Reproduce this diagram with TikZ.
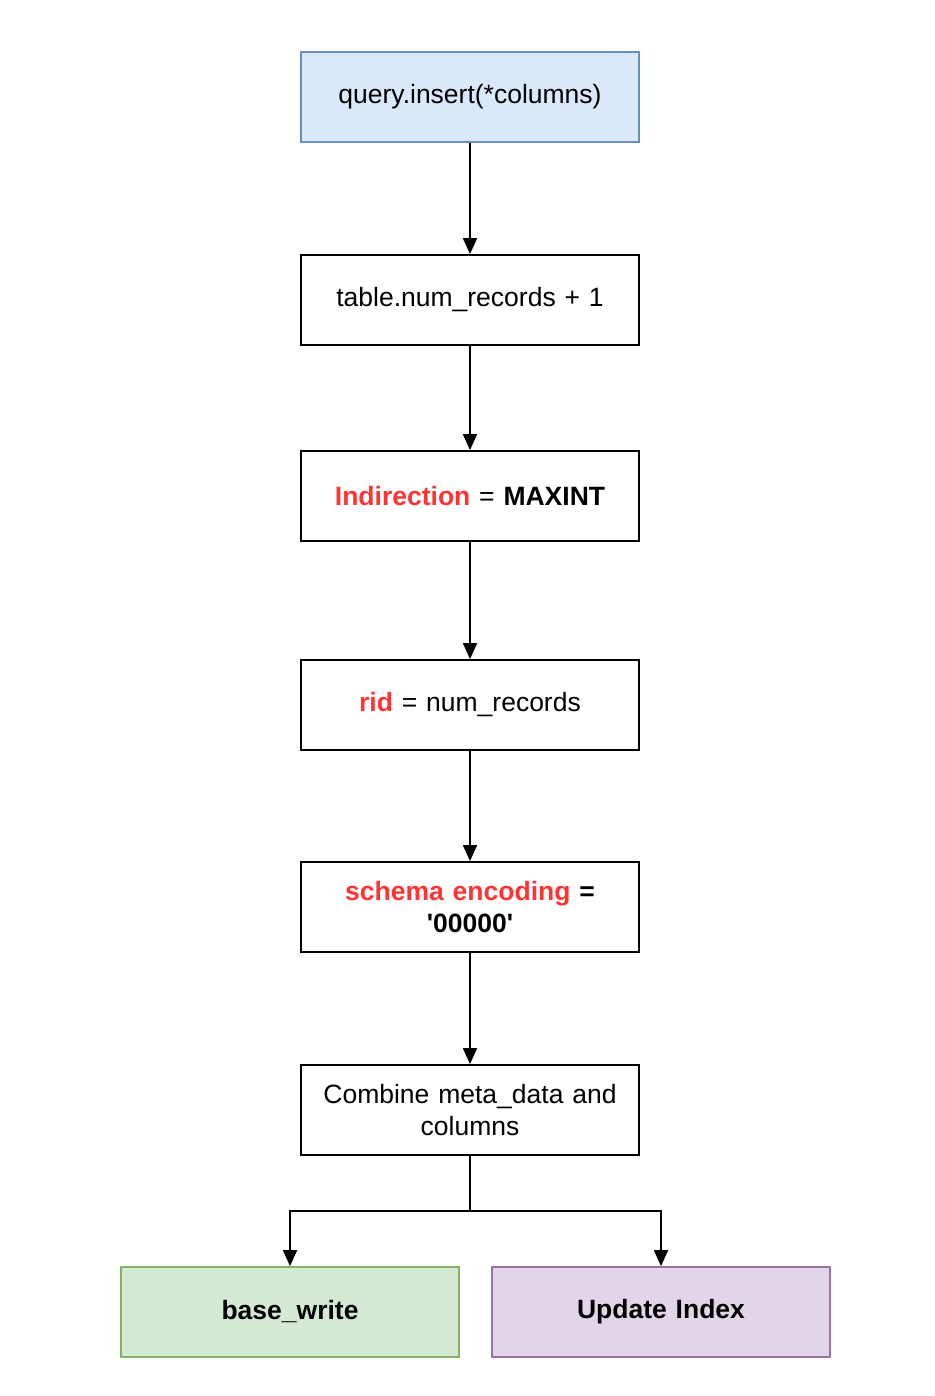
\documentclass[tikz,border=0pt]{standalone}
\usepackage{fontspec}
\setmainfont{Liberation Sans}
\usetikzlibrary{arrows.meta}
\definecolor{bluefill}{HTML}{DAE8FC}
\definecolor{blueline}{HTML}{6C8EBF}
\definecolor{greenfill}{HTML}{D5E8D4}
\definecolor{greenline}{HTML}{82B366}
\definecolor{purplefill}{HTML}{E1D5E7}
\definecolor{purpleline}{HTML}{9673A6}
\definecolor{hl}{HTML}{FF3333}
\begin{document}
\begin{tikzpicture}[x=1pt,y=-1pt,
  box/.style={draw=black,line width=1.8pt,minimum width=338pt,minimum height=90pt,inner sep=0pt,align=center,text width=320pt,font=\fontsize{26.5}{32}\selectfont},
  arr/.style={line width=1.8pt,-{Triangle[length=16pt,width=14pt]}}]
\useasboundingbox (0,0) rectangle (934,1396);
\node[box,fill=bluefill,draw=blueline] (q) at (470,97) {query.insert(*columns)};
\node[box] (t) at (470,300) {table.num\_records + 1};
\node[box] (i) at (470,496) {\textbf{\color{hl}Indirection} = \textbf{MAXINT}};
\node[box] (r) at (470,705) {\textbf{\color{hl}rid} = num\_records};
\node[box] (s) at (470,907) {\textbf{\color{hl}schema encoding} \textbf{=}\\\textbf{\textquotesingle 00000\textquotesingle}};
\node[box] (c) at (470,1110) {Combine meta\_data and\\columns};
\node[box,fill=greenfill,draw=greenline] (b) at (290,1312) {\textbf{base\_write}};
\node[box,fill=purplefill,draw=purpleline] (u) at (661,1312) {\textbf{Update Index}};
\coordinate (fork) at (470,1211);
\draw[arr] (q) -- (t);
\draw[arr] (t) -- (i);
\draw[arr] (i) -- (r);
\draw[arr] (r) -- (s);
\draw[arr] (s) -- (c);
\draw[line width=1.8pt] (c.south) -- (fork);
\draw[arr] (fork) -| (b.north);
\draw[arr] (fork) -| (u.north);
\end{tikzpicture}
\end{document}
